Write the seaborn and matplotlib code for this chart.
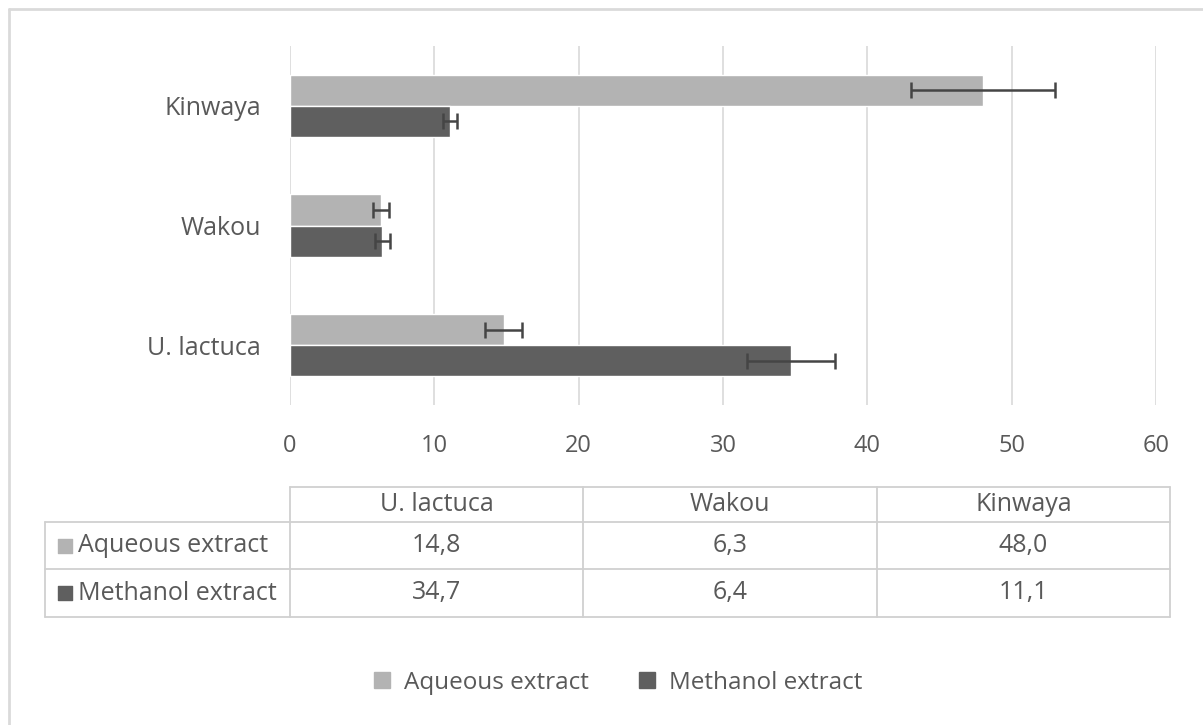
import numpy as np
import pandas as pd
import matplotlib
matplotlib.use("Agg")
import matplotlib.pyplot as plt
from matplotlib.lines import Line2D
import seaborn as sns

# datos
sites = ["Kinwaya", "Wakou", "U. lactuca"]
table_sites = ["U. lactuca", "Wakou", "Kinwaya"]
extracts = ["Aqueous extract", "Methanol extract"]
aqueous = [48.0, 6.3, 14.8]
methanol = [11.1, 6.4, 34.7]
aqueous_err = [5.0, 0.55, 1.3]
methanol_err = [0.5, 0.5, 3.05]
aqueous_txt = ["14,8", "6,3", "48,0"]
methanol_txt = ["34,7", "6,4", "11,1"]

colors = ["#b3b3b3", "#5f5f5f"]
txt_col = "#595959"
grid_col = "#d9d9d9"

sns.set_style("white")
plt.rcParams["font.family"] = ["Open Sans", "DejaVu Sans"]

df = pd.DataFrame({
    "site": sites * 2,
    "extract": [extracts[0]] * 3 + [extracts[1]] * 3,
    "value": aqueous + methanol,
    "err": aqueous_err + methanol_err,
})

W, H = 1203, 725
fig = plt.figure(figsize=(W / 100, H / 100), dpi=100)
ax = fig.add_axes([290 / W, 1 - 405 / H, (1156 - 290) / W, (405 - 46) / H])

sns.barplot(data=df, x="value", y="site", hue="extract", order=sites,
            hue_order=extracts, palette=colors, width=0.52, errorbar=None,
            orient="h", ax=ax, legend=False, saturation=1)

# barras de error a partir de los rectangulos dibujados
for cont, (_, sub) in zip(ax.containers, df.groupby("extract", sort=False)):
    sub = sub.set_index("site").loc[sites]
    ys = [p.get_y() + p.get_height() / 2 for p in cont.patches]
    ax.errorbar(sub["value"].values, ys, xerr=sub["err"].values, fmt="none",
                ecolor="#454545", elinewidth=1.8, capsize=5.5, capthick=1.8)

ax.set_xlim(0, 60)
ax.set_ylim(2.5, -0.5)
ax.set_xticks(np.arange(0, 61, 10))
ax.xaxis.grid(True, color=grid_col, lw=1.2)
ax.set_axisbelow(True)
for s in ax.spines.values():
    s.set_visible(False)
ax.set_xlabel("")
ax.set_ylabel("")
ax.tick_params(axis="both", length=0, colors=txt_col)
ax.tick_params(axis="y", labelsize=18, pad=21)
ax.tick_params(axis="x", labelsize=17, pad=21)

# tabla de datos
tax = fig.add_axes([0, 0, 1, 1])
tax.set_xlim(0, W)
tax.set_ylim(H, 0)
tax.axis("off")
xs = [45, 290, 583, 877, 1170]
ys = [487, 522, 569, 617]
lc = "#d0d0d0"
tax.plot([290, 1170], [ys[0], ys[0]], color=lc, lw=1.3)
for y in ys[1:]:
    tax.plot([45, 1170], [y, y], color=lc, lw=1.3)
tax.plot([45, 45], [ys[1], ys[3]], color=lc, lw=1.3)
for x in xs[1:]:
    tax.plot([x, x], [ys[0], ys[3]], color=lc, lw=1.3)

fs = 18
for i, name in enumerate(table_sites):
    cx = (xs[i + 1] + xs[i + 2]) / 2
    tax.text(cx, (ys[0] + ys[1]) / 2, name, ha="center", va="center",
             fontsize=fs, color=txt_col)
    tax.text(cx, (ys[1] + ys[2]) / 2, aqueous_txt[i], ha="center", va="center",
             fontsize=fs, color=txt_col)
    tax.text(cx, (ys[2] + ys[3]) / 2, methanol_txt[i], ha="center", va="center",
             fontsize=fs, color=txt_col)

for j, (lab, c) in enumerate(zip(extracts, colors)):
    yc = (ys[j + 1] + ys[j + 2]) / 2
    tax.scatter([65], [yc], marker="s", s=110, color=c)
    tax.text(78, yc, lab, ha="left", va="center", fontsize=fs, color=txt_col)

# borde exterior
tax.plot([9, 1203], [9, 9], color="#dadada", lw=2)
tax.plot([9, 9], [9, H], color="#dadada", lw=2)

# leyenda
handles = [Line2D([], [], marker="s", ls="", markersize=11, color=c) for c in colors]
fig.legend(handles, extracts, loc="center", bbox_to_anchor=(610 / W, 1 - 683 / H),
           ncol=2, frameon=False, fontsize=17.5, labelcolor=txt_col,
           handletextpad=-0.1, columnspacing=1.4)

fig.savefig("out.png", dpi=100)
